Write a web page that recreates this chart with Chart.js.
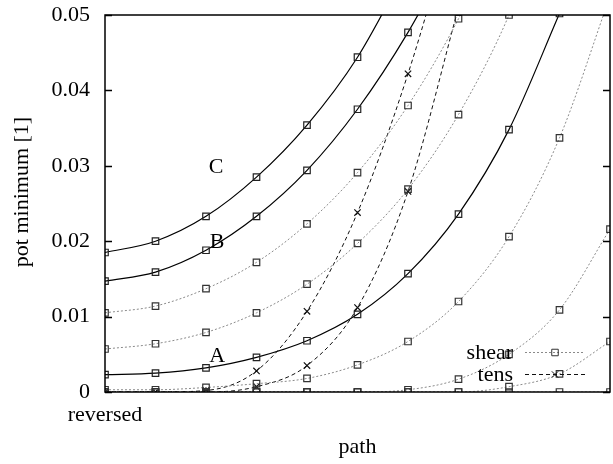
<!DOCTYPE html>
<html>
<head>
<meta charset="utf-8">
<script src="https://cdn.jsdelivr.net/npm/chart.js@4/dist/chart.umd.min.js"></script>
<style>
  html, body { margin: 0; padding: 0; background: #fff; }
  canvas { display: block; }
</style>
</head>
<body>
<canvas id="myChart" width="613" height="464"></canvas>
<script>
// path steps along the x axis (0 = reversed)
const pathSteps = [0, 1, 2, 3, 4, 5, 6, 7, 8, 9, 10]

// solid curves, labelled C, B, A
const curveC = [0.0185, 0.0200, 0.0233, 0.0285, 0.0354, 0.0444, 0.0565]
const curveB = [0.0147, 0.0159, 0.0188, 0.0233, 0.0294, 0.0375, 0.0477, 0.0600]
const curveA = [0.0023, 0.0025, 0.0032, 0.0046, 0.0068, 0.0103, 0.0157, 0.0236, 0.0348, 0.0502]

// shear runs
const shear1 = [0.0105, 0.0114, 0.0137, 0.0172, 0.0223, 0.0291, 0.0380, 0.0495, 0.0640]
const shear2 = [0.0057, 0.0064, 0.0079, 0.0105, 0.0143, 0.0197, 0.0269, 0.0368, 0.0500, 0.0680]
const shear3 = [0.0003, 0.0003, 0.0006, 0.0011, 0.0018, 0.0036, 0.0067, 0.0120, 0.0206, 0.0337, 0.0525]
const shear4 = [0, 0, 0, 0, 0, 0, 0.0003, 0.0017, 0.0050, 0.0109, 0.0216]
const shear5 = [0, 0, 0, 0, 0, 0, 0, 0, 0.0007, 0.0024, 0.0067]
const shear6 = [0, 0, 0, 0, 0, 0, 0, 0, 0, 0, 0]

// tension runs
const tens1 = [0, 0, 0.0002, 0.0028, 0.0107, 0.0238, 0.0422, 0.0650]
const tens2 = [0, 0, 0, 0.0007, 0.0035, 0.0112, 0.0266, 0.0510]

const yTicks = [0, 0.01, 0.02, 0.03, 0.04, 0.05]
const curveNames = ['C', 'B', 'A']
const xLabel = 'path'
const yLabel = 'pot minimum [1]'

const serif = "'Liberation Serif', 'Times New Roman', serif"

function toPoints(values){
    return values.map((v, i) => ({x: pathSteps[i], y: v}))
}

function solid(values){
    return {
        data: toPoints(values),
        borderColor: '#000',
        borderWidth: 1.2,
        pointStyle: 'rect',
        pointRadius: 4.6,
        pointBorderColor: '#222',
        pointBorderWidth: 1.2,
        pointBackgroundColor: 'rgba(255,255,255,0)',
        cubicInterpolationMode: 'monotone'
    }
}

function shear(values){
    return {
        data: toPoints(values),
        borderColor: '#8a8a8a',
        borderWidth: 1,
        borderDash: [2, 2],
        pointStyle: 'rect',
        pointRadius: 4.6,
        pointBorderColor: '#333',
        pointBorderWidth: 1.2,
        pointBackgroundColor: 'rgba(255,255,255,0)',
        cubicInterpolationMode: 'monotone'
    }
}

function tens(values){
    return {
        data: toPoints(values),
        borderColor: '#111',
        borderWidth: 1,
        borderDash: [4, 3],
        pointStyle: 'crossRot',
        pointRadius: 4.5,
        pointBorderColor: '#111',
        pointBorderWidth: 1.2,
        cubicInterpolationMode: 'monotone'
    }
}

const datasets = [
    shear(shear6), shear(shear5), shear(shear4), shear(shear3), shear(shear2), shear(shear1),
    tens(tens1), tens(tens2),
    solid(curveA), solid(curveB), solid(curveC)
]

// where the C/B/A names sit, in data units
const namePos = {C: [2.2, 0.0298], B: [2.22, 0.0198], A: [2.22, 0.0048]}

// frame, inward ticks, curve names, y title and legend (gnuplot look)
const framePlugin = {
    id: 'frame',
    afterDatasetsDraw(chart){
        const {ctx, chartArea: a, scales} = chart
        const ys = scales.y, xs = scales.x
        ctx.save()
        ctx.strokeStyle = '#000'
        ctx.lineWidth = 1.5
        ctx.strokeRect(a.left, a.top, a.right - a.left, a.bottom - a.top)
        for(let v of yTicks){
            let py = Math.round(ys.getPixelForValue(v)) + 0.5
            ctx.beginPath()
            ctx.moveTo(a.left, py); ctx.lineTo(a.left + 7, py)
            ctx.moveTo(a.right, py); ctx.lineTo(a.right - 7, py)
            ctx.stroke()
        }

        ctx.fillStyle = '#000'
        ctx.font = '22px ' + serif
        ctx.textAlign = 'center'
        ctx.textBaseline = 'middle'
        for(let n of curveNames){
            let p = namePos[n]
            ctx.fillText(n, xs.getPixelForValue(p[0]), ys.getPixelForValue(p[1]))
        }

        // y axis title
        ctx.save()
        ctx.translate(22, 192)
        ctx.rotate(-Math.PI / 2)
        ctx.fillText(yLabel, 0, 0)
        ctx.restore()

        // legend
        const entries = [
            {text: 'shear', ds: datasets[0], y: 352},
            {text: 'tens', ds: datasets[6], y: 374}
        ]
        for(let e of entries){
            ctx.textAlign = 'right'
            ctx.textBaseline = 'alphabetic'
            ctx.fillStyle = '#000'
            ctx.fillText(e.text, 513, e.y + 6.5)
            ctx.beginPath()
            ctx.setLineDash(e.ds.borderDash)
            ctx.strokeStyle = e.ds.borderColor
            ctx.lineWidth = 1
            ctx.moveTo(525, e.y + 0.5); ctx.lineTo(585, e.y + 0.5)
            ctx.stroke()
            ctx.setLineDash([])
            ctx.fillStyle = 'rgba(255,255,255,0)'
            ctx.strokeStyle = e.ds.pointBorderColor
            Chart.helpers.drawPoint(ctx, {
                pointStyle: e.ds.pointStyle,
                radius: e.ds.pointRadius,
                borderWidth: e.ds.pointBorderWidth
            }, 555, e.y + 0.5)
        }
        ctx.restore()
    }
}

const ctx = document.getElementById('myChart').getContext('2d')
const myChart = new Chart(ctx, {
    type: 'line',
    data: { datasets },
    options: {
        responsive: false,
        animation: false,
        devicePixelRatio: 1,
        layout: {
            autoPadding: false,
            padding: { top: 15, right: 3, left: 0, bottom: 0 }
        },
        plugins: {
            legend: { display: false },
            tooltip: { enabled: false }
        },
        scales: {
            x: {
                type: 'linear',
                min: 0,
                max: 10,
                grid: { display: false, drawTicks: false },
                border: { display: false },
                afterBuildTicks: s => { s.ticks = [{value: 0}] },
                afterFit: s => {
                    s.height = 72
                    s.paddingLeft = 0
                    s.paddingRight = 0
                },
                ticks: {
                    autoSkip: false,
                    maxRotation: 0,
                    padding: 10,
                    color: '#000',
                    font: { family: serif, size: 22 },
                    callback: v => v === 0 ? 'reversed' : ''
                },
                title: {
                    display: true,
                    text: xLabel,
                    color: '#000',
                    font: { family: serif, size: 22 },
                    padding: { top: 4, bottom: 4 }
                }
            },
            y: {
                min: 0,
                max: 0.05,
                grid: { display: false, drawTicks: false },
                border: { display: false },
                afterBuildTicks: s => { s.ticks = yTicks.map(v => ({value: v})) },
                afterFit: s => {
                    s.width = 105
                    s.paddingTop = 0
                    s.paddingBottom = 0
                },
                ticks: {
                    padding: 15,
                    color: '#000',
                    font: { family: serif, size: 22 },
                    callback: v => v === 0 ? '0' : v.toFixed(2)
                }
            }
        }
    },
    plugins: [framePlugin]
})
</script>
</body>
</html>
